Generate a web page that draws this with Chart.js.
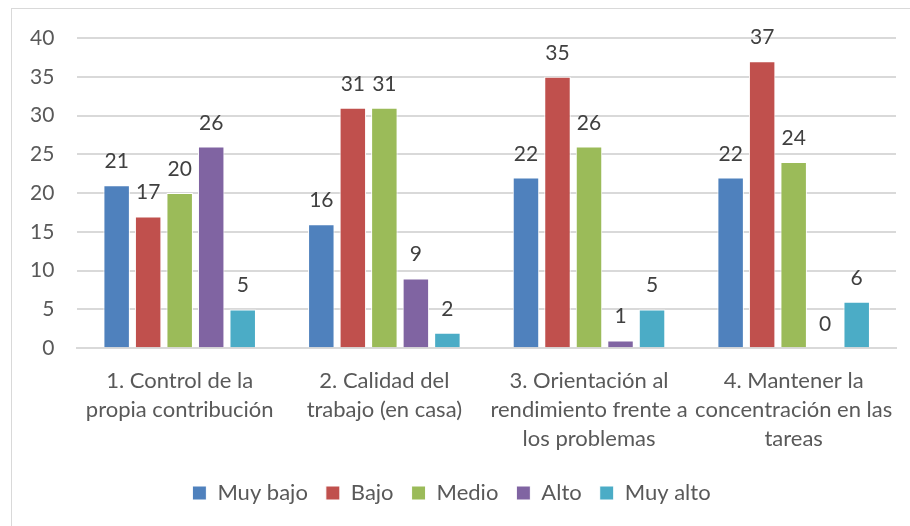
<!DOCTYPE html>
<html>
<head>
<meta charset="utf-8">
<script src="https://cdn.jsdelivr.net/npm/chart.js@4/dist/chart.umd.min.js"></script>
<style>
  html, body { margin: 0; padding: 0; background: #fff; }
  #wrap { position: relative; width: 910px; height: 526px; overflow: hidden; }
  #frame { position: absolute; left: 11px; top: 8px; width: 920px; height: 540px; border: 1px solid #d9d9d9; box-sizing: border-box; }
  canvas { position: absolute; left: 0; top: 0; }
</style>
</head>
<body>
<div id="wrap">
  <div id="frame"></div>
  <canvas id="chart" width="910" height="526"></canvas>
</div>
<script>
// categories (wrapped as in the original)
const categories = [
    ["1. Control de la", "propia contribución"],
    ["2. Calidad del", "trabajo (en casa)"],
    ["3. Orientación al", "rendimiento frente a", "los problemas"],
    ["4. Mantener la", "concentración en las", "tareas"]
];

// series values
const muyBajo = [21, 16, 22, 22];
const bajo    = [17, 31, 35, 37];
const medio   = [20, 31, 26, 24];
const alto    = [26, 9, 1, 0];
const muyAlto = [5, 2, 5, 6];

const seriesNames = ["Muy bajo", "Bajo", "Medio", "Alto", "Muy alto"];
const seriesColors = ['#4F81BD', '#C0504D', '#9BBB59', '#8064A2', '#4BACC6'];

// y axis ticks
const yMin = 0, yMax = 40, yStep = 5;

const FONT = 'Lato, "Open Sans", sans-serif';
const FS = 21;

// draw the value above each bar
const valueLabels = {
    id: 'valueLabels',
    afterDatasetsDraw(chart) {
        const ctx = chart.ctx;
        ctx.save();
        ctx.font = FS + 'px ' + FONT;
        ctx.fillStyle = '#404040';
        ctx.textAlign = 'center';
        ctx.textBaseline = 'alphabetic';
        chart.data.datasets.forEach((ds, i) => {
            const meta = chart.getDatasetMeta(i);
            meta.data.forEach((bar, j) => {
                ctx.fillText(ds.data[j], bar.x, bar.y - 17);
            });
        });
        ctx.restore();
    }
};

const allData = [muyBajo, bajo, medio, alto, muyAlto];

const ctx = document.getElementById('chart').getContext('2d');
const myChart = new Chart(ctx, {
    type: 'bar',
    data: {
        labels: categories,
        datasets: allData.map((d, i) => ({
            label: seriesNames[i],
            data: d,
            backgroundColor: seriesColors[i],
            borderColor: '#ffffff',
            borderWidth: 1,
            barPercentage: 0.84,
            categoryPercentage: 0.77
        }))
    },
    options: {
        responsive: false,
        animation: false,
        layout: {
            autoPadding: false,
            padding: { left: 7, right: 14, top: 38, bottom: 12 }
        },
        plugins: {
            legend: {
                position: 'bottom',
                labels: {
                    font: { family: FONT, size: 22 },
                    color: '#595959',
                    boxWidth: 14,
                    boxHeight: 14,
                    padding: 18
                }
            },
            tooltip: { enabled: false }
        },
        scales: {
            x: {
                grid: { display: false },
                border: { color: '#d9d9d9', width: 2 },
                ticks: {
                    font: { family: FONT, size: 22, lineHeight: 1.33 },
                    color: '#595959',
                    maxRotation: 0,
                    autoSkip: false,
                    padding: 10
                }
            },
            y: {
                min: yMin,
                max: yMax,
                grid: { color: '#d9d9d9', lineWidth: 2, drawTicks: false },
                border: { display: false },
                ticks: {
                    stepSize: yStep,
                    font: { family: FONT, size: FS },
                    color: '#595959',
                    padding: 23
                }
            }
        }
    },
    plugins: [valueLabels]
});
</script>
</body>
</html>
